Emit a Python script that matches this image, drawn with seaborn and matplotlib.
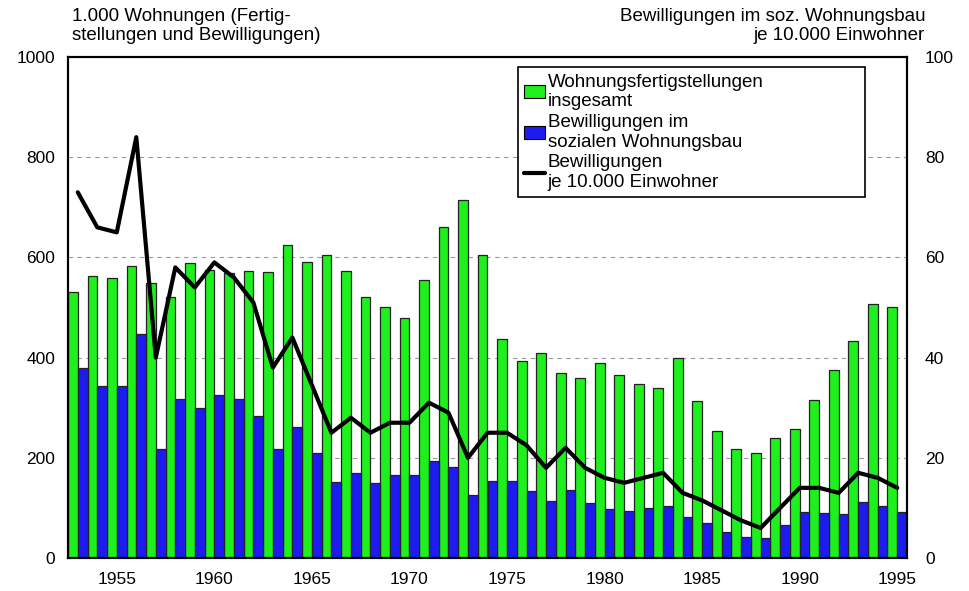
import pandas as pd
import matplotlib
matplotlib.use('Agg')
import matplotlib.pyplot as plt
from matplotlib.patches import Patch
from matplotlib.lines import Line2D
import seaborn as sns

# Werte
years = list(range(1953, 1996))
fertig = [531, 563, 559, 582, 549, 521, 589, 575, 568, 573, 571, 625, 591, 604,
          573, 521, 500, 479, 555, 661, 714, 604, 437, 393, 409, 369, 359, 389,
          365, 348, 339, 399, 313, 253, 218, 210, 240, 257, 315, 375, 433, 507, 501]
sozial = [379, 343, 343, 447, 217, 317, 299, 325, 317, 283, 217, 261, 209, 151,
          169, 149, 165, 165, 193, 181, 125, 153, 153, 133, 113, 135, 109, 97,
          93, 99, 103, 81, 70, 52, 41, 40, 66, 91, 89, 88, 112, 104, 92]
je_einw = [73, 66, 65, 84, 40, 58, 54, 59, 56, 51, 38, 44, 34.5, 25, 28, 25, 27,
           27, 31, 29, 20, 25, 25, 22.5, 18, 22, 18, 16, 15, 16, 17, 13, 11.5,
           9.5, 7.5, 6, 10, 14, 14, 13, 17, 16, 14]

labels = ['Wohnungsfertigstellungen\ninsgesamt',
          'Bewilligungen im\nsozialen Wohnungsbau',
          'Bewilligungen\nje 10.000 Einwohner']
green = '#1DF01D'
blue = '#1C1CF0'

df = pd.DataFrame({'Jahr': years * 2,
                   'Wert': fertig + sozial,
                   'Reihe': ['fertig'] * len(years) + ['sozial'] * len(years)})

sns.set_theme(style='white')
plt.rcParams['font.family'] = ['Liberation Sans', 'DejaVu Sans']
plt.rcParams['text.color'] = 'black'
plt.rcParams['xtick.color'] = 'black'
plt.rcParams['ytick.color'] = 'black'

fig = plt.figure(figsize=(9.7, 5.91), dpi=100)
ax = fig.add_axes([68 / 970, 1 - 558 / 591, 839 / 970, 501 / 591])

sns.barplot(data=df, x='Jahr', y='Wert', hue='Reihe', native_scale=True,
            palette={'fertig': green, 'sozial': blue}, width=1.0, gap=0,
            saturation=1, edgecolor='#222222', linewidth=0.9, legend=False, ax=ax)
ax.set_xlim(1952.5, 1995.5)
ax.set_ylim(0, 1000)
ax.set_xticks(range(1955, 1996, 5))
ax.set_yticks(range(0, 1001, 200))
ax.set_xlabel('')
ax.set_ylabel('')
ax.set_axisbelow(True)
ax.yaxis.grid(True, linestyle=(0, (4, 4)), color='#999999', linewidth=0.8)
ax.tick_params(axis='y', length=0, pad=9, labelsize=12.5)
ax.tick_params(axis='x', length=0, pad=10, labelsize=12.5)

# rechte Achse: Bewilligungen je 10.000 Einwohner
ax2 = ax.twinx()
sns.lineplot(x=years, y=je_einw, color='black', linewidth=3, ax=ax2)
ax2.set_ylim(0, 100)
ax2.set_yticks(range(0, 101, 20))
ax2.tick_params(axis='y', length=0, pad=13, labelsize=12.5)
ax2.grid(False)

for a in (ax, ax2):
    for s in a.spines.values():
        s.set_color('black')
        s.set_linewidth(1.5)

handles = [Patch(facecolor=green, edgecolor='black', linewidth=0.8),
           Patch(facecolor=blue, edgecolor='black', linewidth=0.8),
           Line2D([], [], color='black', linewidth=3)]
leg = ax2.legend(handles, labels, loc='upper left', mode='expand',
                 bbox_to_anchor=(0.536, 0.5, 0.4136, 0.48), borderaxespad=0,
                 fontsize=13.5, handlelength=1.1, handleheight=0.7,
                 handletextpad=0.15, labelspacing=0.2, borderpad=0.35,
                 fancybox=False, framealpha=1, edgecolor='black')
leg.get_frame().set_linewidth(1.2)

fig.text(72 / 970, 1 - 8 / 591, '1.000 Wohnungen (Fertig-\nstellungen und Bewilligungen)',
         ha='left', va='top', fontsize=13.5, linespacing=1.15)
fig.text(925 / 970, 1 - 8 / 591, 'Bewilligungen im soz. Wohnungsbau\nje 10.000 Einwohner',
         ha='right', va='top', fontsize=13.5, linespacing=1.15, multialignment='right')

fig.savefig('out.png', dpi=100)
